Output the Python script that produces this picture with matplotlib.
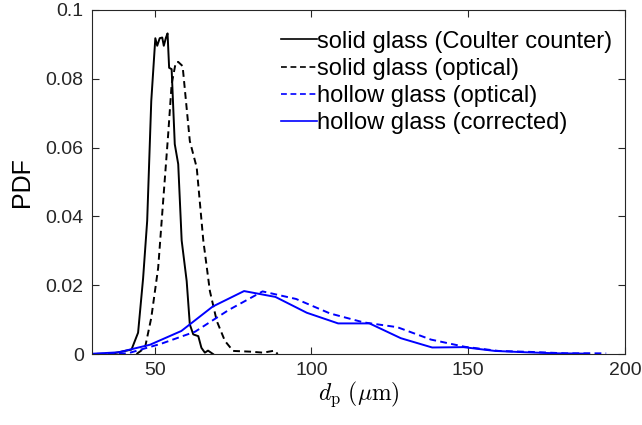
import matplotlib.pyplot as plt

plt.rcParams['font.family'] = ['Liberation Sans', 'DejaVu Sans']
plt.rcParams['mathtext.fontset'] = 'cm'

# distribuciones de tamaño de partícula (d_p en micras, PDF)
d_coulter = [35.7, 40.0, 42.6, 44.7, 46.3, 47.6, 48.9, 50.2, 50.8, 51.6, 52.4,
             52.9, 53.6, 54.1, 54.6, 55.4, 56.4, 57.5, 58.6, 60.2, 61.2, 62.3,
             63.9, 64.9, 66.0, 67.0, 68.6]
pdf_coulter = [0.0, 0.0008, 0.0013, 0.0062, 0.022, 0.0387, 0.0735, 0.0918,
               0.0896, 0.0918, 0.092, 0.0896, 0.092, 0.0932, 0.0832, 0.0828,
               0.061, 0.0552, 0.033, 0.0212, 0.0086, 0.0057, 0.0052, 0.0018,
               0.0004, 0.001, 0.0]

d_solido_opt = [44.2, 46.9, 48.9, 51.1, 52.7, 54.3, 55.4, 56.7, 57.5, 58.9,
                61.2, 63.4, 65.5, 67.6, 69.8, 72.4, 75.0, 80.3, 84.6, 88.3, 89.2]
pdf_solido_opt = [0.0, 0.0018, 0.0105, 0.025, 0.0445, 0.0639, 0.0784, 0.0847,
                  0.0849, 0.0837, 0.0619, 0.0542, 0.033, 0.0183, 0.0096, 0.0038,
                  0.0009, 0.0007, 0.0004, 0.001, 0.0]

d_hueco_opt = [28.0, 41.4, 52.1, 62.9, 73.6, 84.4, 95.1, 105.9, 116.6, 127.4,
               138.1, 148.9, 159.6, 170.4, 181.1, 194.0]
pdf_hueco_opt = [0.0, 0.0002, 0.003, 0.0065, 0.0128, 0.0182, 0.016, 0.0118,
                 0.0092, 0.0078, 0.0042, 0.0021, 0.0009, 0.0006, 0.0002, 0.0002]

d_hueco_corr = [28.5, 38.5, 48.5, 58.5, 68.5, 78.5, 88.5, 98.5, 108.5, 118.5,
                128.5, 138.5, 148.5, 158.5, 168.5, 178.5, 188.5]
pdf_hueco_corr = [0.0, 0.0005, 0.0027, 0.0067, 0.0138, 0.0183, 0.0166, 0.012,
                  0.0089, 0.0089, 0.0046, 0.0019, 0.002, 0.0009, 0.0005,
                  0.0002, 0.0001]

fig = plt.figure(figsize=(6.42, 4.25), dpi=100)
ax = fig.add_axes([0.1433, 0.167, 0.8302, 0.8095])

guion = (0, (3.5, 2.2))
ax.plot(d_coulter, pdf_coulter, color='k', ls='-', lw=1.4,
        label='solid glass (Coulter counter)')
ax.plot(d_solido_opt, pdf_solido_opt, color='k', ls=guion, lw=1.4,
        label='solid glass (optical)')
ax.plot(d_hueco_opt, pdf_hueco_opt, color='#0000ff', ls=guion, lw=1.4,
        label='hollow glass (optical)')
ax.plot(d_hueco_corr, pdf_hueco_corr, color='#0000ff', ls='-', lw=1.4,
        label='hollow glass (corrected)')

ax.set_xlim(30, 200)
ax.set_ylim(0, 0.1)
ax.set_xticks([50, 100, 150, 200])
ax.set_yticks([0, 0.02, 0.04, 0.06, 0.08, 0.1])
ax.set_yticklabels(['0', '0.02', '0.04', '0.06', '0.08', '0.1'])
ax.tick_params(direction='in', top=True, right=True, labelsize=14, length=5,
               width=0.8, colors='#262626', pad=6)
for s in ax.spines.values():
    s.set_color('#262626')
    s.set_linewidth(0.8)

ax.set_xlabel(r'$d_{\rm p}\ (\mu{\rm m})$', fontsize=17, labelpad=0)
ax.set_ylabel('PDF', fontsize=18, labelpad=8)

leg = ax.legend(loc='upper right', bbox_to_anchor=(0.975, 0.94), frameon=False,
                fontsize=17, handlelength=1.5, handletextpad=0.0,
                labelspacing=0.22, borderaxespad=0.0, borderpad=0.0)
for h in leg.get_lines():
    h.set_linewidth(1.2)

plt.savefig('out.png', dpi=100)
plt.close()
